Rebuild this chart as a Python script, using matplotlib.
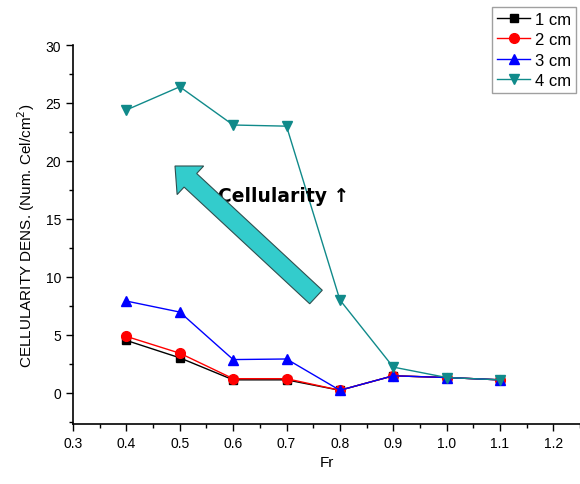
import matplotlib
matplotlib.use('Agg')
import matplotlib.pyplot as plt
from matplotlib.patches import FancyArrow
from matplotlib.ticker import MultipleLocator

plt.rcParams['font.family'] = ['Liberation Sans', 'DejaVu Sans']

# 数据
fr = [0.4, 0.5, 0.6, 0.7, 0.8, 0.9, 1.0, 1.1]
cm1 = [4.5, 3.0, 1.1, 1.1, 0.2, 1.45, 1.3, 1.1]
cm2 = [4.85, 3.4, 1.2, 1.2, 0.2, 1.45, 1.3, 1.1]
cm3 = [7.9, 6.95, 2.85, 2.9, 0.2, 1.45, 1.3, 1.1]
cm4 = [24.4, 26.4, 23.1, 23.0, 8.0, 2.2, 1.3, 1.1]
labels = ['1 cm', '2 cm', '3 cm', '4 cm']

fig = plt.figure(figsize=(5.8, 4.85), dpi=100)
ax = fig.add_axes([0.126, 0.124, 0.874, 0.781])

ax.plot(fr, cm1, color='black', marker='s', ms=6, lw=1, label=labels[0])
ax.plot(fr, cm2, color='red', marker='o', ms=7, lw=1, label=labels[1])
ax.plot(fr, cm3, color='blue', marker='^', ms=7, lw=1, label=labels[2])
ax.plot(fr, cm4, color='#108a8a', marker='v', ms=7, lw=1, label=labels[3])

ax.set_xlim(0.3, 1.25)
ax.set_ylim(-2.7, 30)
ax.xaxis.set_major_locator(MultipleLocator(0.1))
ax.xaxis.set_minor_locator(MultipleLocator(0.05))
ax.yaxis.set_major_locator(MultipleLocator(5))
ax.yaxis.set_minor_locator(MultipleLocator(2.5))
ax.tick_params(which='major', length=5, width=1, labelsize=10, direction='out')
ax.tick_params(which='minor', length=3, width=1, direction='out')
ax.set_xticks([0.3, 0.4, 0.5, 0.6, 0.7, 0.8, 0.9, 1.0, 1.1, 1.2])
ax.set_xticklabels(['0.3', '0.4', '0.5', '0.6', '0.7', '0.8', '0.9', '1.0', '1.1', '1.2'])

for s in ['top', 'right']:
    ax.spines[s].set_visible(False)
for s in ['left', 'bottom']:
    ax.spines[s].set_linewidth(1.2)

ax.set_xlabel('Fr', fontsize=11)
ax.set_ylabel('CELLULARITY DENS. (Num. Cel/cm$^2$)', fontsize=11, labelpad=6)

# 箭头（英寸坐标，保持形状）
arr = FancyArrow(3.16, 1.87, -1.41, 1.31, width=0.185, head_width=0.39, head_length=0.21,
                 length_includes_head=True, facecolor='#33cccc', edgecolor='#2f4f4f', lw=0.8,
                 transform=fig.dpi_scale_trans, zorder=1)
fig.patches.append(arr)
ax.text(0.571, 17.0, 'Cellularity \u2191', fontsize=13.5, fontweight='bold',
        family=['DejaVu Sans'], va='center', ha='left')

leg = fig.legend(loc='upper left', bbox_to_anchor=(0.848, 0.984), fontsize=12,
                 frameon=True, fancybox=False, edgecolor='#888888', borderaxespad=0,
                 handlelength=2.0, labelspacing=0.33, borderpad=0.3, handletextpad=0.3)

plt.savefig('out.png', dpi=100)
